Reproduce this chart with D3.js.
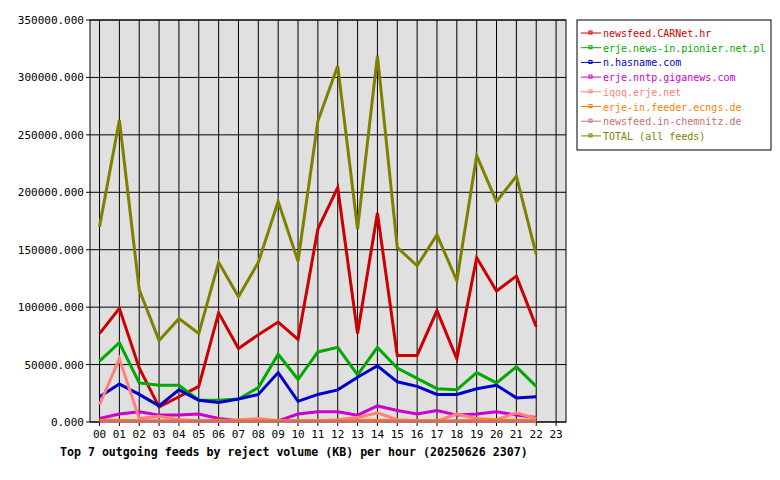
<!DOCTYPE html><html><head><script src="https://d3js.org/d3.v7.min.js"></script>
<style>body{margin:0;background:#fff}text{font-family:"DejaVu Sans Mono",monospace;font-size:11px}</style></head><body><svg id="c" width="780" height="480"></svg><script>
const hours=["00","01","02","03","04","05","06","07","08","09","10","11","12","13","14","15","16","17","18","19","20","21","22","23"];
const names=["newsfeed.CARNet.hr","erje.news-in.pionier.net.pl","n.hasname.com","erje.nntp.giganews.com","iqoq.erje.net","erje-in.feeder.ecngs.de","newsfeed.in-chemnitz.de","TOTAL (all feeds)"];
const colors=["#cc0000","#00aa00","#0000cc","#cc00cc","#ff8080","#ff8000","#c87070","#808000"];
const carnet=[77000,99000,47000,13000,22000,31000,95000,64000,76000,87000,72000,168000,204000,77000,182000,58000,58000,97000,55000,143000,114000,127000,83000];
const pionier=[53000,69000,34000,32000,32000,19000,19000,20000,30000,59000,37000,61000,65000,41000,65000,47000,38000,29000,28000,43000,34000,48000,31000];
const hasname=[22000,33000,24000,14000,28000,19000,17000,20000,24000,43000,18000,24000,28000,39000,49000,35000,31000,24000,24000,29000,32000,21000,22000];
const giganews=[3000,7000,9000,6000,6000,7000,3000,1000,1000,1000,7000,9000,9000,6000,14000,10000,7000,10000,6000,7000,9000,6000,4000];
const iqoq=[15000,55000,3000,5000,2000,1000,1000,2000,3000,1000,1000,1000,2000,4000,8000,2000,1000,1000,7000,3000,2000,8000,3000];
const ecngs=[1500,1500,1000,1000,1000,1000,1500,1000,1000,1000,1000,1000,1000,1500,1500,1000,1000,1000,1000,1500,1500,1500,1500];
const chemnitz=[500,500,500,500,500,500,500,500,500,500,500,500,500,500,500,500,500,500,500,500,500,500,500];
const total=[170000,263000,115000,71000,90000,77000,139000,109000,139000,192000,140000,262000,310000,168000,319000,152000,136000,163000,123000,232000,192000,214000,146000];
const series=[carnet,pionier,hasname,giganews,iqoq,ecngs,chemnitz,total];
const yTicks=[0,50000,100000,150000,200000,250000,300000,350000];
const svg=d3.select("#c");
const L=90,R=566,T=20,B=422;
const x=d3.scaleLinear().domain([-0.48,23.5]).range([L,R]);
const y=d3.scaleLinear().domain([0,350000]).range([B,T]);
svg.append("rect").attr("x",L).attr("y",T).attr("width",R-L).attr("height",B-T).attr("fill","#e0e0e0");
hours.forEach((h,i)=>{svg.append("line").attr("x1",x(i)).attr("x2",x(i)).attr("y1",T).attr("y2",B+4).attr("stroke","#000");
svg.append("text").attr("x",x(i)).attr("y",B+16).attr("text-anchor","middle").text(h);});
yTicks.forEach(v=>{svg.append("line").attr("x1",L-4).attr("x2",R).attr("y1",y(v)).attr("y2",y(v)).attr("stroke","#000");
svg.append("text").attr("x",L-6).attr("y",y(v)+4).attr("text-anchor","end").text(v+".000");});
svg.append("rect").attr("x",L).attr("y",T).attr("width",R-L).attr("height",B-T).attr("fill","none").attr("stroke","#000");
const line=d3.line().x((d,i)=>x(i)).y(d=>y(d));
series.forEach((s,k)=>svg.append("path").attr("d",line(s)).attr("fill","none").attr("stroke",colors[k]).attr("stroke-width",3));
svg.append("text").attr("x",60).attr("y",456).attr("font-weight","bold").style("font-size","11.6px").text("Top 7 outgoing feeds by reject volume (KB) per hour (20250626 2307)");
const lg=svg.append("g");
lg.append("rect").attr("x",577).attr("y",20).attr("width",194).attr("height",130).attr("fill","#fff").attr("stroke","#000");
names.forEach((n,k)=>{const yy=33+k*14.7;
lg.append("line").attr("x1",581).attr("x2",601).attr("y1",yy).attr("y2",yy).attr("stroke",colors[k]);
lg.append("rect").attr("x",589).attr("y",yy-2).attr("width",3).attr("height",3).attr("fill","none").attr("stroke",colors[k]);
lg.append("text").attr("x",603).attr("y",yy+4).attr("fill",colors[k]).style("font-size","10px").text(n);});
</script></body></html>
